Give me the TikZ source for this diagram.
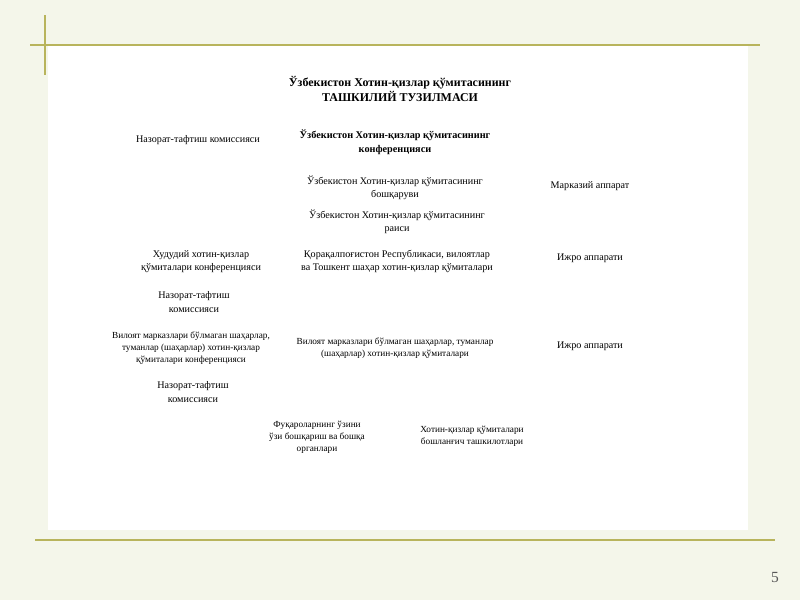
\documentclass[tikz,border=0pt]{standalone}
\usepackage{fontspec}
\setmainfont{Liberation Serif}
\usetikzlibrary{positioning}
\definecolor{slidebg}{RGB}{244,246,234}
\definecolor{rule}{RGB}{184,180,92}

\begin{document}
\begin{tikzpicture}[x=0.025cm, y=-0.025cm,
        unit/.style={align=center, font=\fontsize{7.2}{9.3}\selectfont, inner sep=1pt},
        small/.style={unit, font=\fontsize{6.6}{8.6}\selectfont},
        head/.style={unit, font=\fontsize{7.3}{10}\selectfont\bfseries},
        title/.style={unit, font=\fontsize{8.5}{10.7}\selectfont\bfseries},
        pagenum/.style={font=\fontsize{11}{13}\selectfont, text=gray!70!black}
    ]
        % slide
        \fill[slidebg] (0,0) rectangle (800,600);
        \fill[white] (48,45) rectangle (748,530);
        \useasboundingbox (0,0) rectangle (800,600);
        \draw[rule, line width=1.2pt] (30,45) -- (760,45);
        \draw[rule, line width=1.2pt] (45,15) -- (45,75);
        \draw[rule, line width=0.8pt] (35,540) -- (775,540);
        \node[pagenum] (page) at (775,577) {5};

        \node[title] (heading) at (400,89) {Ўзбекистон Хотин-қизлар қўмитасининг\\ТАШКИЛИЙ ТУЗИЛМАСИ};

        % left column
        \node[unit] (audit1) at (198,140) {Назорат-тафтиш комиссияси};
        \node[unit] (regconf) at (201,262) {Худудий хотин-қизлар\\қўмиталари конференцияси};
        \node[unit] (audit2) at (194,302) {Назорат-тафтиш\\комиссияси};
        \node[small] (cityconf) at (191,348) {Вилоят марказлари бўлмаган шаҳарлар,\\туманлар (шаҳарлар) хотин-қизлар\\қўмиталари конференцияси};
        \node[unit] (audit3) at (193,392) {Назорат-тафтиш\\комиссияси};

        % middle column
        \node[head] (conf) at (395,142) {Ўзбекистон Хотин-қизлар қўмитасининг\\конференцияси};
        \node[unit] (board) at (395,188) {Ўзбекистон Хотин-қизлар қўмитасининг\\бошқаруви};
        \node[unit] (chair) at (397,222) {Ўзбекистон Хотин-қизлар қўмитасининг\\раиси};
        \node[unit] (regcom) at (397,261) {Қорақалпоғистон Республикаси, вилоятлар\\ва Тошкент шаҳар хотин-қизлар қўмиталари};
        \node[small] (citycom) at (395,348) {Вилоят марказлари бўлмаган шаҳарлар, туманлар\\(шаҳарлар) хотин-қизлар қўмиталари};
        \node[small] (selfgov) at (317,437) {Фуқароларнинг ўзини\\ўзи бошқариш ва бошқа\\органлари};
        \node[small] (primary) at (472,436) {Хотин-қизлар қўмиталари\\бошланғич ташкилотлари};

        % right column
        \node[unit] (central) at (590,186) {Марказий аппарат};
        \node[unit] (exec1) at (590,258) {Ижро аппарати};
        \node[unit] (exec2) at (590,346) {Ижро аппарати};
    \end{tikzpicture}
\end{document}
